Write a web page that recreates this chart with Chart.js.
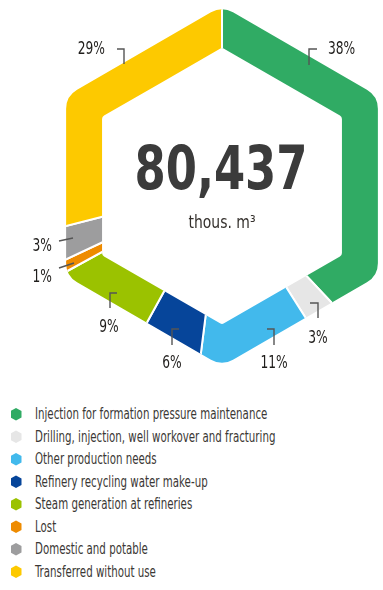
<!DOCTYPE html>
<html>
<head>
<meta charset="utf-8">
<script src="https://cdn.jsdelivr.net/npm/chart.js@4.4.1/dist/chart.umd.min.js"></script>
<style>
html, body { margin: 0; padding: 0; background: #fff; }
body { width: 383px; height: 590px; overflow: hidden; position: relative;
       font-family: 'DejaVu Sans Condensed', 'Liberation Sans Narrow', sans-serif; }
#chart-box { position: absolute; left: 0; top: 0; width: 383px; height: 390px; }
#legend { position: absolute; left: 0; top: 403px; margin: 0; padding: 0; list-style: none; }
#legend li { height: 22.5px; display: flex; align-items: center; font-size: 15px; color: #3b3835; white-space: nowrap; }
#legend .hex { flex: none; width: 11px; height: 12.7px; margin-left: 10.5px; margin-right: 13.5px;
               clip-path: polygon(50% 0, 100% 25%, 100% 75%, 50% 100%, 0 75%, 0 25%); }
#legend .txt { display: inline-block; transform: scaleX(0.76); transform-origin: left center; }
</style>
</head>
<body>
<div id="chart-box"><canvas id="waterChart"></canvas></div>
<ul id="legend"></ul>
<script>
const categories = [
    'Injection for formation pressure maintenance',
    'Drilling, injection, well workover and fracturing',
    'Other production needs',
    'Refinery recycling water make-up',
    'Steam generation at refineries',
    'Lost',
    'Domestic and potable',
    'Transferred without use'
];
const shares = [38, 3, 11, 6, 9, 1, 3, 29];
const sliceColors = ['#30ab64', '#e6e6e6', '#42b9ec', '#06459a', '#9bc200', '#ee8b00', '#9d9d9e', '#fdc900'];
const totalValue = '80,437';
const totalUnit = 'thous. m\u00b3';

// label text anchors and leader lines, in canvas px
const labelLayout = [
    { at: [328, 50, 'left'],   line: [[317, 49], [309, 49], [309, 65]] },
    { at: [318, 339, 'center'], line: [[310, 303], [318, 303], [318, 318]] },
    { at: [274, 364, 'center'], line: [[267, 329], [274, 329], [274, 345]] },
    { at: [172, 364, 'center'], line: [[179, 329], [172, 329], [172, 345]] },
    { at: [109, 328, 'center'], line: [[117, 293], [110, 293], [110, 308]] },
    { at: [52, 278, 'right'],  line: [[59, 268], [74, 263]] },
    { at: [52, 247, 'right'],  line: [[59, 241], [73, 238]] },
    { at: [105, 50, 'right'],  line: [[117, 49], [124, 49], [124, 64]] }
];

const HEX_OUTER = 180, HEX_INNER = 138.5;
const FONT = '"DejaVu Sans Condensed", "Liberation Sans Narrow", sans-serif';

function hexPath(ctx, cx, cy, r, round) {
    const pts = [];
    for (let i = 0; i < 6; i++) {
        const a = -Math.PI / 2 + i * Math.PI / 3;
        pts.push([cx + r * Math.cos(a), cy + r * Math.sin(a)]);
    }
    ctx.moveTo((pts[5][0] + pts[0][0]) / 2, (pts[5][1] + pts[0][1]) / 2);
    for (let i = 0; i < 6; i++) {
        const p = pts[i], q = pts[(i + 1) % 6];
        ctx.arcTo(p[0], p[1], q[0], q[1], round);
    }
    ctx.closePath();
}

const hexRing = {
    id: 'hexRing',
    beforeDatasetDraw(chart) {
        const arc = chart.getDatasetMeta(0).data[0];
        const ctx = chart.ctx;
        ctx.save();
        ctx.beginPath();
        hexPath(ctx, arc.x, arc.y, HEX_OUTER, 22);
        hexPath(ctx, arc.x, arc.y, HEX_INNER, 4);
        ctx.clip('evenodd');
    },
    afterDatasetDraw(chart) {
        chart.ctx.restore();
    }
};

function squeezedText(ctx, text, x, y, sx) {
    ctx.save();
    ctx.translate(x, y);
    ctx.scale(sx, 1);
    ctx.fillText(text, 0, 0);
    ctx.restore();
}

const annotations = {
    id: 'annotations',
    afterDraw(chart) {
        const ctx = chart.ctx;
        const arc = chart.getDatasetMeta(0).data[0];
        const data = chart.data.datasets[0].data;
        const total = data.reduce((a, b) => a + b, 0);

        // centre figure
        ctx.save();
        ctx.fillStyle = '#3b3b3b';
        ctx.textAlign = 'center';
        ctx.textBaseline = 'alphabetic';
        ctx.font = 'bold 61px ' + FONT;
        squeezedText(ctx, totalValue, arc.x - 1, 189, 173 / ctx.measureText(totalValue).width);
        ctx.fillStyle = '#35312d';
        ctx.font = '17px ' + FONT;
        squeezedText(ctx, totalUnit, arc.x, 228, 67 / ctx.measureText(totalUnit).width);
        ctx.restore();

        // percentage labels
        ctx.save();
        ctx.strokeStyle = '#555';
        ctx.lineWidth = 1.4;
        ctx.fillStyle = '#1f1d1b';
        ctx.font = '17px ' + FONT;
        ctx.textBaseline = 'middle';
        labelLayout.forEach((lab, i) => {
            ctx.beginPath();
            lab.line.forEach((p, j) => j ? ctx.lineTo(p[0], p[1]) : ctx.moveTo(p[0], p[1]));
            ctx.stroke();
            ctx.textAlign = lab.at[2];
            squeezedText(ctx, Math.round(data[i] / total * 100) + '%', lab.at[0], lab.at[1], 0.8);
        });
        ctx.restore();
    }
};

const htmlLegend = {
    id: 'htmlLegend',
    afterUpdate(chart) {
        const list = document.getElementById('legend');
        list.innerHTML = '';
        const items = chart.options.plugins.legend.labels.generateLabels(chart);
        items.forEach(item => {
            const li = document.createElement('li');
            const box = document.createElement('span');
            box.className = 'hex';
            box.style.background = item.fillStyle;
            const txt = document.createElement('span');
            txt.className = 'txt';
            txt.textContent = item.text;
            li.appendChild(box);
            li.appendChild(txt);
            list.appendChild(li);
        });
    }
};

new Chart(document.getElementById('waterChart'), {
    type: 'doughnut',
    data: {
        labels: categories,
        datasets: [{
            data: shares,
            backgroundColor: sliceColors,
            borderColor: '#fff',
            borderWidth: 2,
            radius: 190,
            cutout: '55%',
            clip: false
        }]
    },
    options: {
        responsive: true,
        maintainAspectRatio: false,
        animation: false,
        layout: { padding: { left: 66, right: 5, top: 6, bottom: 24 } },
        plugins: {
            legend: { display: false },
            tooltip: { enabled: false }
        }
    },
    plugins: [hexRing, annotations, htmlLegend]
});
</script>
</body>
</html>
